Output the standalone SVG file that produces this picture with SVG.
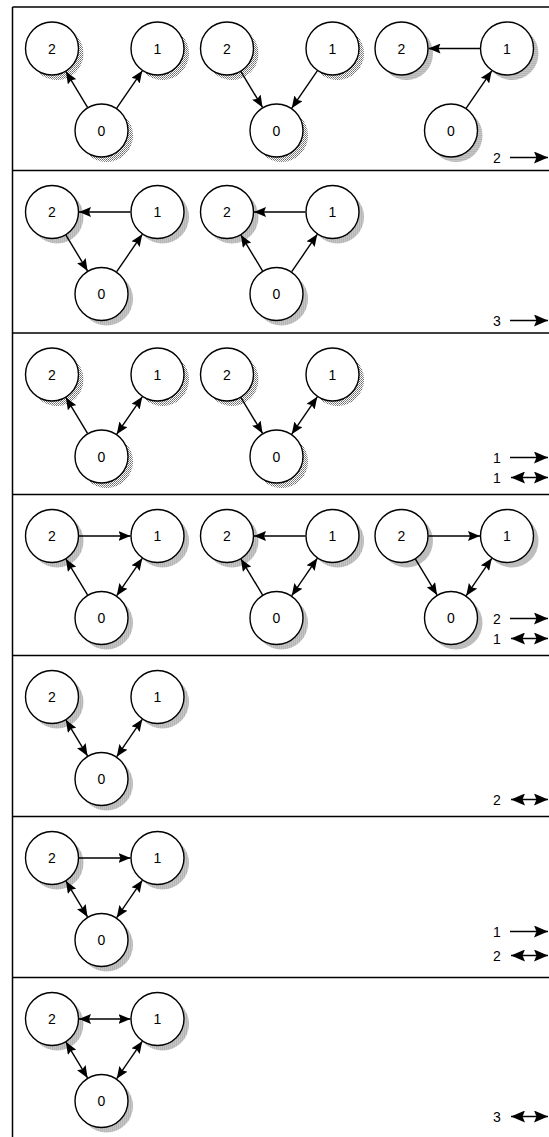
<svg xmlns="http://www.w3.org/2000/svg" width="549" height="1137" viewBox="0 0 549 1137">
  <defs>
    <pattern id="stipple" width="2" height="2" patternUnits="userSpaceOnUse">
      <rect width="2" height="2" fill="#ffffff"/>
      <rect width="1" height="1" fill="#6a6a6a"/>
      <rect x="1" y="1" width="1" height="1" fill="#8c8c8c"/>
    </pattern>
    <marker id="ah" viewBox="0 0 12 10" refX="12" refY="5" markerWidth="12" markerHeight="10" markerUnits="userSpaceOnUse" orient="auto-start-reverse">
      <path d="M0,0 L12,5 L0,10 L2,5 z" fill="#000"/>
    </marker>
    <marker id="lh" viewBox="0 0 14 12" refX="14" refY="6" markerWidth="14" markerHeight="12" markerUnits="userSpaceOnUse" orient="auto-start-reverse">
      <path d="M0,0 L14,6 L0,12 L2.5,6 z" fill="#000"/>
    </marker>
  </defs>
  <style>
    .sh { fill: url(#stipple); stroke: none; }
    .c { fill: #ffffff; stroke: #000; stroke-width: 1.4; }
    .t { font-family: "Liberation Sans", Arial, sans-serif; font-size: 14px; fill: #000; text-anchor: middle; }
    .lt { font-family: "Liberation Sans", Arial, sans-serif; font-size: 14px; fill: #000; }
    .e { fill: none; stroke: #000; stroke-width: 1.4; }
    .to { marker-end: url(#ah); }
    .bi { marker-start: url(#ah); marker-end: url(#ah); }
    .frame { stroke: #000; stroke-width: 1.5; fill: none; }
    .lg { fill: none; stroke: #000; stroke-width: 1.4; marker-end: url(#lh); }
    .lgb { fill: none; stroke: #000; stroke-width: 1.4; marker-start: url(#lh); marker-end: url(#lh); }
  </style>

  <rect width="549" height="1137" fill="#ffffff"/>

  <!-- frame and panel dividers -->
  <g id="frame" class="frame">
    <line x1="12.5" y1="7" x2="549" y2="7"/>
    <line x1="12.5" y1="7" x2="12.5" y2="1137"/>
    <line x1="12.5" y1="170.5" x2="549" y2="170.5"/>
    <line x1="12.5" y1="333" x2="549" y2="333"/>
    <line x1="12.5" y1="494.5" x2="549" y2="494.5"/>
    <line x1="12.5" y1="655.5" x2="549" y2="655.5"/>
    <line x1="12.5" y1="816.5" x2="549" y2="816.5"/>
    <line x1="12.5" y1="977.5" x2="549" y2="977.5"/>
  </g>

  <!-- node template: 2 at (0,41.5), 1 at (105.5,41.5), 0 at (49.5,123.5) -->

  <!-- ===== panel 1 ===== -->
  <g id="p1a" transform="translate(52,7)">
    <g id="p1a-n2"><circle class="sh" cx="5" cy="46.5" r="26.5"/><circle class="c" cx="0" cy="41.5" r="26.5"/><text class="t" x="0" y="46.5">2</text></g>
    <g id="p1a-n1"><circle class="sh" cx="110.5" cy="46.5" r="26.5"/><circle class="c" cx="105.5" cy="41.5" r="26.5"/><text class="t" x="105.5" y="46.5">1</text></g>
    <g id="p1a-n0"><circle class="sh" cx="54.5" cy="128.5" r="26.5"/><circle class="c" cx="49.5" cy="123.5" r="26.5"/><text class="t" x="49.5" y="128.5">0</text></g>
    <g id="p1a-edges">
      <path class="e to" d="M35.55,100.39 L13.95,64.61"/>
      <path class="e to" d="M64.73,101.2 L90.27,63.8"/>
    </g>
  </g>
  <g id="p1b" transform="translate(227,7)">
    <g id="p1b-n2"><circle class="sh" cx="5" cy="46.5" r="26.5"/><circle class="c" cx="0" cy="41.5" r="26.5"/><text class="t" x="0" y="46.5">2</text></g>
    <g id="p1b-n1"><circle class="sh" cx="110.5" cy="46.5" r="26.5"/><circle class="c" cx="105.5" cy="41.5" r="26.5"/><text class="t" x="105.5" y="46.5">1</text></g>
    <g id="p1b-n0"><circle class="sh" cx="54.5" cy="128.5" r="26.5"/><circle class="c" cx="49.5" cy="123.5" r="26.5"/><text class="t" x="49.5" y="128.5">0</text></g>
    <g id="p1b-edges">
      <path class="e to" d="M13.95,64.61 L35.55,100.39"/>
      <path class="e to" d="M90.27,63.8 L64.73,101.2"/>
    </g>
  </g>
  <g id="p1c" transform="translate(401.5,7)">
    <g id="p1c-n2"><circle class="sh" cx="5" cy="46.5" r="26.5"/><circle class="c" cx="0" cy="41.5" r="26.5"/><text class="t" x="0" y="46.5">2</text></g>
    <g id="p1c-n1"><circle class="sh" cx="110.5" cy="46.5" r="26.5"/><circle class="c" cx="105.5" cy="41.5" r="26.5"/><text class="t" x="105.5" y="46.5">1</text></g>
    <g id="p1c-n0"><circle class="sh" cx="54.5" cy="128.5" r="26.5"/><circle class="c" cx="49.5" cy="123.5" r="26.5"/><text class="t" x="49.5" y="128.5">0</text></g>
    <g id="p1c-edges">
      <path class="e to" d="M78.5,41.5 L27,41.5"/>
      <path class="e to" d="M64.73,101.2 L90.27,63.8"/>
    </g>
  </g>
  <g id="p1-legend">
    <text class="lt" x="493" y="162.5">2</text>
    <path class="lg" d="M510,157.5 L548,157.5"/>
  </g>

  <!-- ===== panel 2 ===== -->
  <g id="p2a" transform="translate(52,170.5)">
    <g id="p2a-n2"><circle class="sh" cx="5" cy="46.5" r="26.5"/><circle class="c" cx="0" cy="41.5" r="26.5"/><text class="t" x="0" y="46.5">2</text></g>
    <g id="p2a-n1"><circle class="sh" cx="110.5" cy="46.5" r="26.5"/><circle class="c" cx="105.5" cy="41.5" r="26.5"/><text class="t" x="105.5" y="46.5">1</text></g>
    <g id="p2a-n0"><circle class="sh" cx="54.5" cy="128.5" r="26.5"/><circle class="c" cx="49.5" cy="123.5" r="26.5"/><text class="t" x="49.5" y="128.5">0</text></g>
    <g id="p2a-edges">
      <path class="e to" d="M78.5,41.5 L27,41.5"/>
      <path class="e to" d="M13.95,64.61 L35.55,100.39"/>
      <path class="e to" d="M64.73,101.2 L90.27,63.8"/>
    </g>
  </g>
  <g id="p2b" transform="translate(227,170.5)">
    <g id="p2b-n2"><circle class="sh" cx="5" cy="46.5" r="26.5"/><circle class="c" cx="0" cy="41.5" r="26.5"/><text class="t" x="0" y="46.5">2</text></g>
    <g id="p2b-n1"><circle class="sh" cx="110.5" cy="46.5" r="26.5"/><circle class="c" cx="105.5" cy="41.5" r="26.5"/><text class="t" x="105.5" y="46.5">1</text></g>
    <g id="p2b-n0"><circle class="sh" cx="54.5" cy="128.5" r="26.5"/><circle class="c" cx="49.5" cy="123.5" r="26.5"/><text class="t" x="49.5" y="128.5">0</text></g>
    <g id="p2b-edges">
      <path class="e to" d="M78.5,41.5 L27,41.5"/>
      <path class="e to" d="M35.55,100.39 L13.95,64.61"/>
      <path class="e to" d="M64.73,101.2 L90.27,63.8"/>
    </g>
  </g>
  <g id="p2-legend">
    <text class="lt" x="493" y="325.5">3</text>
    <path class="lg" d="M510,320.5 L548,320.5"/>
  </g>

  <!-- ===== panel 3 ===== -->
  <g id="p3a" transform="translate(52,333)">
    <g id="p3a-n2"><circle class="sh" cx="5" cy="46.5" r="26.5"/><circle class="c" cx="0" cy="41.5" r="26.5"/><text class="t" x="0" y="46.5">2</text></g>
    <g id="p3a-n1"><circle class="sh" cx="110.5" cy="46.5" r="26.5"/><circle class="c" cx="105.5" cy="41.5" r="26.5"/><text class="t" x="105.5" y="46.5">1</text></g>
    <g id="p3a-n0"><circle class="sh" cx="54.5" cy="128.5" r="26.5"/><circle class="c" cx="49.5" cy="123.5" r="26.5"/><text class="t" x="49.5" y="128.5">0</text></g>
    <g id="p3a-edges">
      <path class="e to" d="M35.55,100.39 L13.95,64.61"/>
      <path class="e bi" d="M64.73,101.2 L90.27,63.8"/>
    </g>
  </g>
  <g id="p3b" transform="translate(227,333)">
    <g id="p3b-n2"><circle class="sh" cx="5" cy="46.5" r="26.5"/><circle class="c" cx="0" cy="41.5" r="26.5"/><text class="t" x="0" y="46.5">2</text></g>
    <g id="p3b-n1"><circle class="sh" cx="110.5" cy="46.5" r="26.5"/><circle class="c" cx="105.5" cy="41.5" r="26.5"/><text class="t" x="105.5" y="46.5">1</text></g>
    <g id="p3b-n0"><circle class="sh" cx="54.5" cy="128.5" r="26.5"/><circle class="c" cx="49.5" cy="123.5" r="26.5"/><text class="t" x="49.5" y="128.5">0</text></g>
    <g id="p3b-edges">
      <path class="e to" d="M13.95,64.61 L35.55,100.39"/>
      <path class="e bi" d="M64.73,101.2 L90.27,63.8"/>
    </g>
  </g>
  <g id="p3-legend">
    <text class="lt" x="493" y="462.5">1</text>
    <path class="lg" d="M510,457.5 L548,457.5"/>
    <text class="lt" x="493" y="482.5">1</text>
    <path class="lgb" d="M511,477.5 L548,477.5"/>
  </g>

  <!-- ===== panel 4 ===== -->
  <g id="p4a" transform="translate(52,494.5)">
    <g id="p4a-n2"><circle class="sh" cx="5" cy="46.5" r="26.5"/><circle class="c" cx="0" cy="41.5" r="26.5"/><text class="t" x="0" y="46.5">2</text></g>
    <g id="p4a-n1"><circle class="sh" cx="110.5" cy="46.5" r="26.5"/><circle class="c" cx="105.5" cy="41.5" r="26.5"/><text class="t" x="105.5" y="46.5">1</text></g>
    <g id="p4a-n0"><circle class="sh" cx="54.5" cy="128.5" r="26.5"/><circle class="c" cx="49.5" cy="123.5" r="26.5"/><text class="t" x="49.5" y="128.5">0</text></g>
    <g id="p4a-edges">
      <path class="e to" d="M27,41.5 L78.5,41.5"/>
      <path class="e to" d="M35.55,100.39 L13.95,64.61"/>
      <path class="e bi" d="M64.73,101.2 L90.27,63.8"/>
    </g>
  </g>
  <g id="p4b" transform="translate(227,494.5)">
    <g id="p4b-n2"><circle class="sh" cx="5" cy="46.5" r="26.5"/><circle class="c" cx="0" cy="41.5" r="26.5"/><text class="t" x="0" y="46.5">2</text></g>
    <g id="p4b-n1"><circle class="sh" cx="110.5" cy="46.5" r="26.5"/><circle class="c" cx="105.5" cy="41.5" r="26.5"/><text class="t" x="105.5" y="46.5">1</text></g>
    <g id="p4b-n0"><circle class="sh" cx="54.5" cy="128.5" r="26.5"/><circle class="c" cx="49.5" cy="123.5" r="26.5"/><text class="t" x="49.5" y="128.5">0</text></g>
    <g id="p4b-edges">
      <path class="e to" d="M78.5,41.5 L27,41.5"/>
      <path class="e to" d="M35.55,100.39 L13.95,64.61"/>
      <path class="e bi" d="M64.73,101.2 L90.27,63.8"/>
    </g>
  </g>
  <g id="p4c" transform="translate(401.5,494.5)">
    <g id="p4c-n2"><circle class="sh" cx="5" cy="46.5" r="26.5"/><circle class="c" cx="0" cy="41.5" r="26.5"/><text class="t" x="0" y="46.5">2</text></g>
    <g id="p4c-n1"><circle class="sh" cx="110.5" cy="46.5" r="26.5"/><circle class="c" cx="105.5" cy="41.5" r="26.5"/><text class="t" x="105.5" y="46.5">1</text></g>
    <g id="p4c-n0"><circle class="sh" cx="54.5" cy="128.5" r="26.5"/><circle class="c" cx="49.5" cy="123.5" r="26.5"/><text class="t" x="49.5" y="128.5">0</text></g>
    <g id="p4c-edges">
      <path class="e to" d="M27,41.5 L78.5,41.5"/>
      <path class="e to" d="M13.95,64.61 L35.55,100.39"/>
      <path class="e bi" d="M64.73,101.2 L90.27,63.8"/>
    </g>
  </g>
  <g id="p4-legend">
    <text class="lt" x="493" y="623.5">2</text>
    <path class="lg" d="M510,618.5 L548,618.5"/>
    <text class="lt" x="493" y="643.5">1</text>
    <path class="lgb" d="M511,638.5 L548,638.5"/>
  </g>

  <!-- ===== panel 5 ===== -->
  <g id="p5a" transform="translate(52,655.5)">
    <g id="p5a-n2"><circle class="sh" cx="5" cy="46.5" r="26.5"/><circle class="c" cx="0" cy="41.5" r="26.5"/><text class="t" x="0" y="46.5">2</text></g>
    <g id="p5a-n1"><circle class="sh" cx="110.5" cy="46.5" r="26.5"/><circle class="c" cx="105.5" cy="41.5" r="26.5"/><text class="t" x="105.5" y="46.5">1</text></g>
    <g id="p5a-n0"><circle class="sh" cx="54.5" cy="128.5" r="26.5"/><circle class="c" cx="49.5" cy="123.5" r="26.5"/><text class="t" x="49.5" y="128.5">0</text></g>
    <g id="p5a-edges">
      <path class="e bi" d="M35.55,100.39 L13.95,64.61"/>
      <path class="e bi" d="M64.73,101.2 L90.27,63.8"/>
    </g>
  </g>
  <g id="p5-legend">
    <text class="lt" x="493" y="804.5">2</text>
    <path class="lgb" d="M511,799.5 L548,799.5"/>
  </g>

  <!-- ===== panel 6 ===== -->
  <g id="p6a" transform="translate(52,816.5)">
    <g id="p6a-n2"><circle class="sh" cx="5" cy="46.5" r="26.5"/><circle class="c" cx="0" cy="41.5" r="26.5"/><text class="t" x="0" y="46.5">2</text></g>
    <g id="p6a-n1"><circle class="sh" cx="110.5" cy="46.5" r="26.5"/><circle class="c" cx="105.5" cy="41.5" r="26.5"/><text class="t" x="105.5" y="46.5">1</text></g>
    <g id="p6a-n0"><circle class="sh" cx="54.5" cy="128.5" r="26.5"/><circle class="c" cx="49.5" cy="123.5" r="26.5"/><text class="t" x="49.5" y="128.5">0</text></g>
    <g id="p6a-edges">
      <path class="e to" d="M27,41.5 L78.5,41.5"/>
      <path class="e bi" d="M35.55,100.39 L13.95,64.61"/>
      <path class="e bi" d="M64.73,101.2 L90.27,63.8"/>
    </g>
  </g>
  <g id="p6-legend">
    <text class="lt" x="493" y="936.5">1</text>
    <path class="lg" d="M510,931.5 L548,931.5"/>
    <text class="lt" x="493" y="960.5">2</text>
    <path class="lgb" d="M511,955.5 L548,955.5"/>
  </g>

  <!-- ===== panel 7 ===== -->
  <g id="p7a" transform="translate(52,977.5)">
    <g id="p7a-n2"><circle class="sh" cx="5" cy="46.5" r="26.5"/><circle class="c" cx="0" cy="41.5" r="26.5"/><text class="t" x="0" y="46.5">2</text></g>
    <g id="p7a-n1"><circle class="sh" cx="110.5" cy="46.5" r="26.5"/><circle class="c" cx="105.5" cy="41.5" r="26.5"/><text class="t" x="105.5" y="46.5">1</text></g>
    <g id="p7a-n0"><circle class="sh" cx="54.5" cy="128.5" r="26.5"/><circle class="c" cx="49.5" cy="123.5" r="26.5"/><text class="t" x="49.5" y="128.5">0</text></g>
    <g id="p7a-edges">
      <path class="e bi" d="M27,41.5 L78.5,41.5"/>
      <path class="e bi" d="M35.55,100.39 L13.95,64.61"/>
      <path class="e bi" d="M64.73,101.2 L90.27,63.8"/>
    </g>
  </g>
  <g id="p7-legend">
    <text class="lt" x="493" y="1121.5">3</text>
    <path class="lgb" d="M511,1116.5 L548,1116.5"/>
  </g>
</svg>
